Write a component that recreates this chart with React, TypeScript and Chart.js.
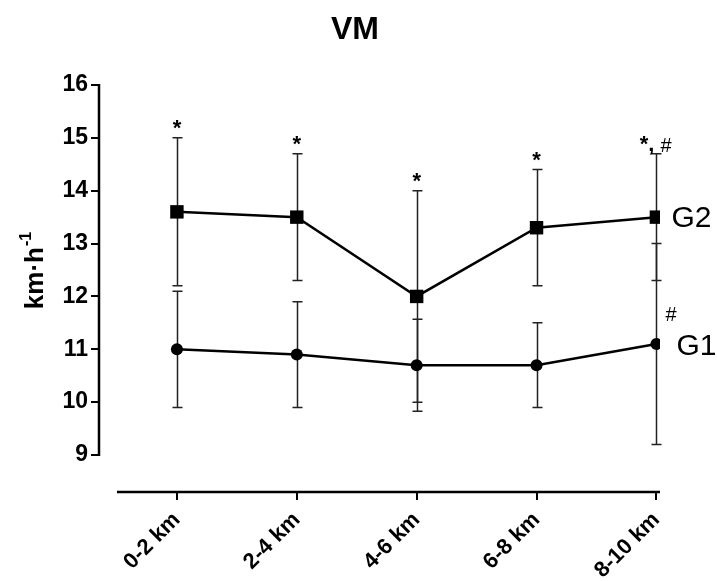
import React, { useEffect, useRef } from "react";
import { Chart, registerables } from "chart.js";

Chart.register(...registerables);

const categories = ["0-2 km", "2-4 km", "4-6 km", "6-8 km", "8-10 km"];
const g1Mean = [11.0, 10.9, 10.7, 10.7, 11.1];
const g1SD = [1.1, 1.0, 0.87, 0.8, 1.9];
const g2Mean = [13.6, 13.5, 12.0, 13.3, 13.5];
const g2SD = [1.4, 1.2, 2.0, 1.1, 1.2];
const g2Marks = ["*", "*", "*", "*", "*,"];
const g2Marks2 = ["", "", "", "", "#"];
const g1Marks = ["", "", "", "", "#"];
const yTicks = [9, 10, 11, 12, 13, 14, 15, 16];
const seriesNames = ["G1", "G2"];
const chartTitle = "VM";
const yTitleMain = "km·h";
const yTitleSup = "-1";

const FONT = "'Liberation Sans', Arial, Helvetica, sans-serif";

const errorBarPlugin = {
  id: "errorBars",
  beforeDatasetsDraw(chart: any) {
    const { ctx, scales } = chart;
    const x = scales.x;
    const y = scales.y;
    const sets = [
      { m: g1Mean, s: g1SD },
      { m: g2Mean, s: g2SD },
    ];
    ctx.save();
    ctx.strokeStyle = "#222";
    ctx.lineWidth = 1.5;
    sets.forEach(({ m, s }) => {
      m.forEach((v, i) => {
        const px = Math.round(x.getPixelForValue(i)) + 0.5;
        const top = y.getPixelForValue(v + s[i]);
        const bot = y.getPixelForValue(v - s[i]);
        ctx.beginPath();
        ctx.moveTo(px, top);
        ctx.lineTo(px, bot);
        ctx.moveTo(px - 5, top);
        ctx.lineTo(px + 5, top);
        ctx.moveTo(px - 5, bot);
        ctx.lineTo(px + 5, bot);
        ctx.stroke();
      });
    });
    ctx.restore();
  },
};

const decorPlugin = {
  id: "decor",
  afterDraw(chart: any) {
    const { ctx, chartArea, scales } = chart;
    const x = scales.x;
    const y = scales.y;
    ctx.save();
    // axis lines
    ctx.strokeStyle = "#000";
    ctx.lineWidth = 2.5;
    ctx.beginPath();
    ctx.moveTo(chartArea.left, y.getPixelForValue(yTicks[0]) + 1);
    ctx.lineTo(chartArea.left, y.getPixelForValue(yTicks[yTicks.length - 1]) - 1);
    ctx.stroke();
    ctx.beginPath();
    ctx.moveTo(x.getPixelForValue(-0.5), chartArea.bottom);
    ctx.lineTo(chartArea.right, chartArea.bottom);
    ctx.stroke();

    // title
    ctx.fillStyle = "#000";
    ctx.font = `bold 32px ${FONT}`;
    ctx.textAlign = "center";
    ctx.textBaseline = "alphabetic";
    ctx.fillText(chartTitle, 355, 39);

    // y title
    ctx.save();
    ctx.translate(43, 271);
    ctx.rotate(-Math.PI / 2);
    ctx.font = `bold 26px ${FONT}`;
    const wMain = ctx.measureText(yTitleMain).width;
    ctx.font = `bold 16px ${FONT}`;
    const wSup = ctx.measureText(yTitleSup).width;
    const total = wMain + wSup;
    ctx.textAlign = "left";
    ctx.font = `bold 26px ${FONT}`;
    ctx.fillText(yTitleMain, -total / 2, 0);
    ctx.font = `bold 16px ${FONT}`;
    ctx.fillText(yTitleSup, -total / 2 + wMain + 1, -12);
    ctx.restore();

    // significance marks above G2
    g2Marks.forEach((t, i) => {
      if (!t) return;
      const px = x.getPixelForValue(i);
      const top = y.getPixelForValue(g2Mean[i] + g2SD[i]);
      const extra = g2Marks2[i];
      if (extra) {
        ctx.textAlign = "right";
        ctx.font = `bold 22px ${FONT}`;
        ctx.fillText(t, px - 2, top - 3);
        ctx.textAlign = "left";
        ctx.font = `20px ${FONT}`;
        ctx.fillText(extra, px + 4, top - 2);
      } else {
        ctx.textAlign = "center";
        ctx.font = `bold 22px ${FONT}`;
        ctx.fillText(t, px, top - 3);
      }
    });
    // marks near G1
    ctx.font = `20px ${FONT}`;
    ctx.textAlign = "left";
    g1Marks.forEach((t, i) => {
      if (!t) return;
      const px = x.getPixelForValue(i);
      const py = y.getPixelForValue(g1Mean[i]);
      ctx.fillText(t, px + 9, py - 23);
    });

    // series labels
    ctx.font = `30px ${FONT}`;
    ctx.textBaseline = "middle";
    const last = categories.length - 1;
    ctx.fillText(seriesNames[1], x.getPixelForValue(last) + 15, y.getPixelForValue(g2Mean[last]) + 2);
    ctx.fillText(seriesNames[0], x.getPixelForValue(last) + 20, y.getPixelForValue(g1Mean[last]) + 3);
    ctx.restore();
  },
};

export default function App() {
  const ref = useRef<HTMLCanvasElement | null>(null);
  useEffect(() => {
    if (!ref.current) return;
    const chart = new Chart(ref.current, {
      type: "line",
      data: {
        datasets: [
          {
            label: seriesNames[0],
            data: g1Mean.map((v, i) => ({ x: i, y: v })),
            borderColor: "#000",
            backgroundColor: "#000",
            borderWidth: 2.5,
            pointStyle: "circle",
            pointRadius: 6,
            pointBorderWidth: 0,
            tension: 0,
          },
          {
            label: seriesNames[1],
            data: g2Mean.map((v, i) => ({ x: i, y: v })),
            borderColor: "#000",
            backgroundColor: "#000",
            borderWidth: 2.5,
            pointStyle: "rect",
            pointRadius: 9.5,
            pointBorderWidth: 0,
            tension: 0,
          },
        ],
      },
      options: {
        animation: false,
        responsive: false,
        layout: { padding: { top: 85, left: 0, right: 57, bottom: 0 } },
        plugins: {
          legend: { display: false },
          title: { display: false },
          tooltip: { enabled: false },
        },
        scales: {
          x: {
            type: "linear",
            min: -0.65,
            max: 4.03,
            afterBuildTicks: (scale: any) => {
              scale.ticks = categories.map((_, i) => ({ value: i }));
            },
            afterFit: (scale: any) => {
              scale.height = 89;
            },
            border: { display: false },
            grid: {
              drawOnChartArea: false,
              drawTicks: true,
              tickLength: 8,
              color: "#000",
              lineWidth: 2,
            },
            ticks: {
              autoSkip: false,
              minRotation: 45,
              maxRotation: 45,
              color: "#000",
              padding: 7,
              font: { family: FONT, size: 22, weight: "bold" },
              callback: (v: any) => categories[v] ?? "",
            },
          },
          y: {
            type: "linear",
            min: 8.3,
            max: 16,
            afterBuildTicks: (scale: any) => {
              scale.ticks = yTicks.map((v) => ({ value: v }));
            },
            afterFit: (scale: any) => {
              scale.width = 99;
            },
            border: { display: false },
            grid: {
              drawOnChartArea: false,
              drawTicks: true,
              tickLength: 8,
              color: "#000",
              lineWidth: 2,
            },
            ticks: {
              color: "#000",
              padding: 3,
              font: { family: FONT, size: 23, weight: "bold" },
            },
          },
        },
      },
      plugins: [errorBarPlugin, decorPlugin],
    });
    return () => chart.destroy();
  }, []);
  return (
    <div style={{ position: "absolute", left: 0, top: 0, width: 717, height: 581, background: "#fff" }}>
      <canvas ref={ref} width={717} height={581} style={{ display: "block" }} />
    </div>
  );
}
